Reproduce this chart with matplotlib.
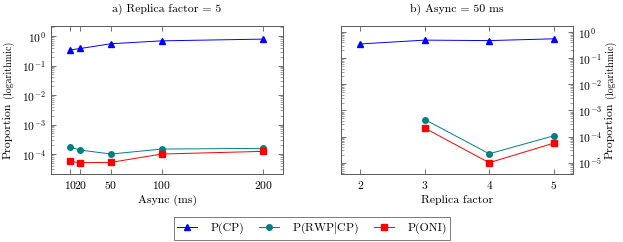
import numpy as np
from matplotlib import pyplot as plt
from matplotlib.ticker import LogLocator, NullFormatter

plt.rcParams['font.family'] = 'cmr10'
plt.rcParams['mathtext.fontset'] = 'cm'
plt.rcParams['axes.formatter.use_mathtext'] = True
plt.rcParams['font.size'] = 8

# a) Replica factor = 5
async_ms = [10, 20, 50, 100, 200]
cp_a = [0.34, 0.38, 0.55, 0.69, 0.79]
rwp_a = [1.7e-4, 1.36e-4, 1.0e-4, 1.47e-4, 1.56e-4]
oni_a = [5.6e-5, 5.1e-5, 5.2e-5, 1.0e-4, 1.23e-4]

# b) Async = 50 ms
replica = [2, 3, 4, 5]
cp_b = [0.35, 0.49, 0.47, 0.55]
replica_r = [3, 4, 5]
rwp_b = [4.5e-4, 2.2e-5, 1.07e-4]
oni_b = [2.1e-4, 1.0e-5, 5.6e-5]

W, H = 623, 242
fig = plt.figure(figsize=(W/100, H/100), dpi=100)
ax1 = fig.add_axes([51/W, 1-174/H, 232/W, 148/H])
ax2 = fig.add_axes([341/W, 1-174/H, 232/W, 148/H])

stl = dict(lw=0.7, ms=4)
for ax, x, cp, xr, rwp, oni in [(ax1, async_ms, cp_a, async_ms, rwp_a, oni_a),
                                (ax2, replica, cp_b, replica_r, rwp_b, oni_b)]:
    ax.plot(x, cp, color='blue', marker='^', label='P(CP)', **stl)
    ax.plot(xr, rwp, color='teal', marker='o', label='P(RWP$|$CP)', **stl)
    ax.plot(xr, oni, color='red', marker='s', label='P(ONI)', **stl)
    ax.set_yscale('log')
    ax.yaxis.set_major_locator(LogLocator(base=10, numticks=20))
    ax.yaxis.set_minor_locator(LogLocator(base=10, subs=np.arange(2, 10), numticks=20))
    ax.yaxis.set_minor_formatter(NullFormatter())
    ax.tick_params(which='both', direction='in', top=True, right=True, colors='0.35',
                   labelcolor='black', labelsize=8.3)
    ax.tick_params(which='major', length=3.5, width=0.6)
    ax.tick_params(which='minor', length=2, width=0.4)
    for s in ax.spines.values():
        s.set_color('0.35')
        s.set_linewidth(0.7)

ax1.set_xlim(-9, 219.5)
ax1.set_ylim(2.1e-5, 2.2)
ax1.set_xticks(async_ms)
ax1.set_xlabel('Async (ms)', fontsize=8.5, labelpad=3)
ax1.set_title('a) Replica factor = 5', fontsize=8.5, pad=10)

ax2.set_xlim(1.7, 5.3)
ax2.set_ylim(3.7e-6, 1.7)
ax2.set_xticks(replica)
ax2.yaxis.tick_right()
ax2.tick_params(which='both', left=True, right=True)
ax2.set_xlabel('Replica factor', fontsize=8.5, labelpad=3)
ax2.set_title('b) Async = 50 ms', fontsize=8.5, pad=10)

# y labels with a smaller "(logarithmic)"
for xp in [8, 610]:
    fig.text(xp/W, 1-159/H, 'Proportion', rotation=90, ha='center', va='bottom', fontsize=8.5)
    fig.text(xp/W, 1-98/H, '(logarithmic)', rotation=90, ha='center', va='bottom', fontsize=7.2)

h, l = ax1.get_legend_handles_labels()
leg = fig.legend(h, l, loc='center', bbox_to_anchor=(312/W, 1-228.5/H), ncol=3,
                 fancybox=False, edgecolor='0.35', fontsize=8.5, handlelength=1.7,
                 columnspacing=1.3, borderpad=0.3, handletextpad=1.1)
leg.get_frame().set_linewidth(0.7)

fig.savefig('out.png', dpi=100)
